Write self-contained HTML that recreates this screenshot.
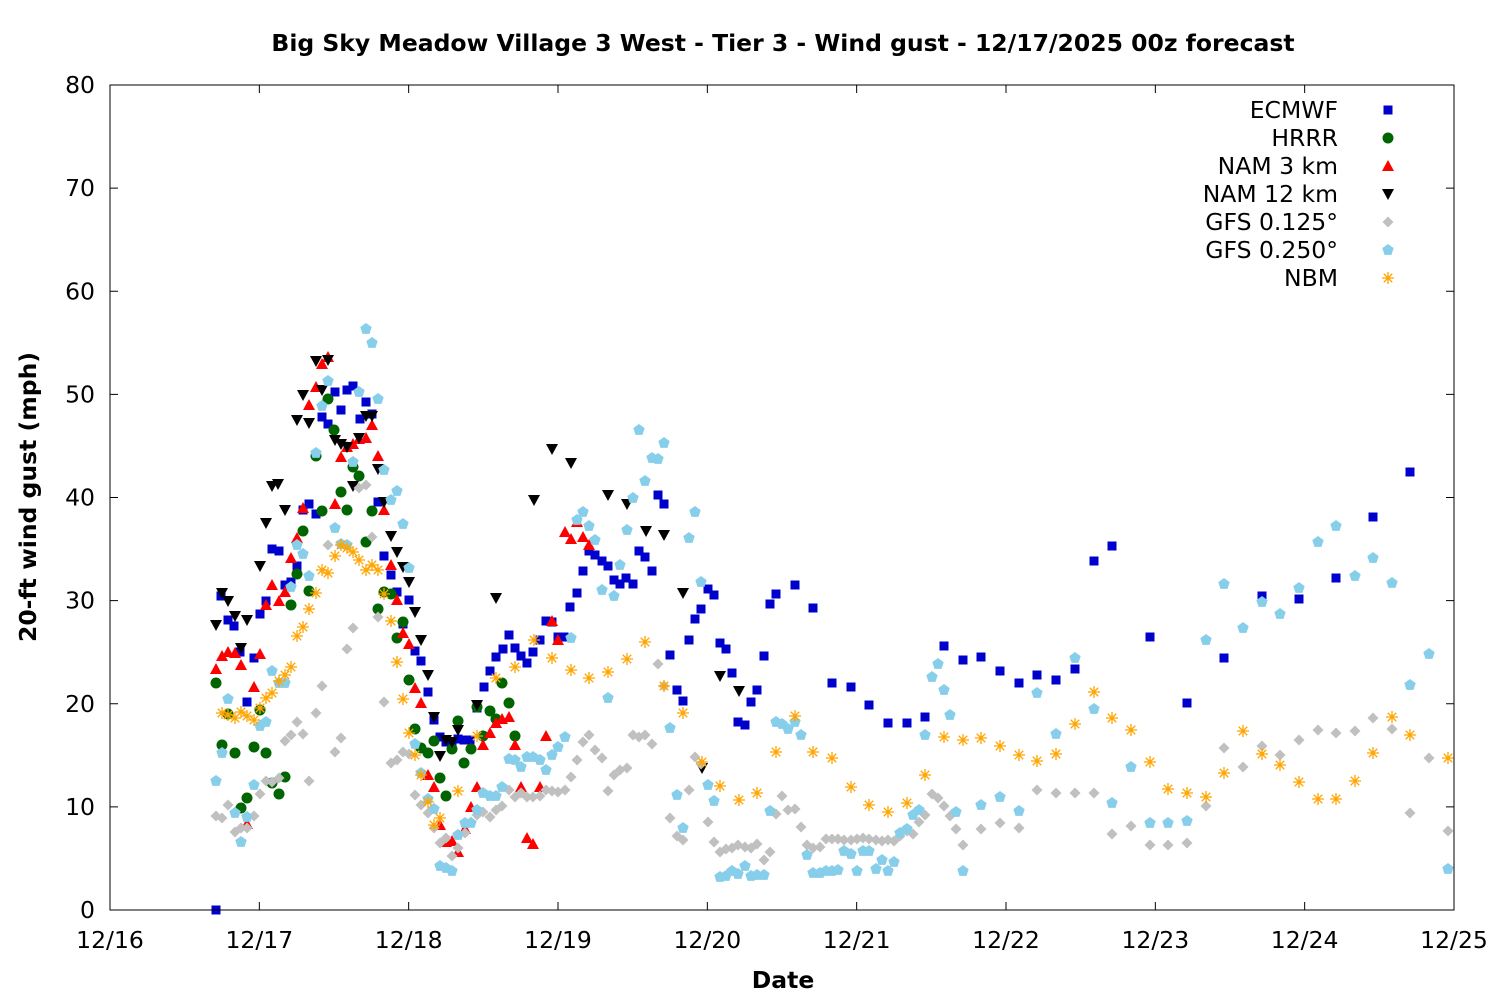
<!DOCTYPE html>
<html><head><meta charset="utf-8"><style>
html,body{margin:0;padding:0;background:#fff}
svg{display:block;font-family:"DejaVu Sans","Liberation Sans",sans-serif}
</style></head><body>
<svg id="s" width="1500" height="1000" xmlns="http://www.w3.org/2000/svg">
<rect width="1500" height="1000" fill="#fff"/>
<text x="783" y="51" text-anchor="middle" font-size="23.5" font-weight="bold">Big Sky Meadow Village 3 West - Tier 3 - Wind gust - 12/17/2025 00z forecast</text>
<text transform="translate(36,497) rotate(-90)" text-anchor="middle" font-size="23.5" font-weight="bold">20-ft wind gust (mph)</text>
<text x="783" y="988" text-anchor="middle" font-size="23.5" font-weight="bold">Date</text>
<g id="ax"></g>
<g id="pts"></g>
<g id="leg" font-size="23.5" text-anchor="end">
<text x="1338" y="118">ECMWF</text>
<text x="1338" y="146">HRRR</text>
<text x="1338" y="174">NAM 3 km</text>
<text x="1338" y="202">NAM 12 km</text>
<text x="1338" y="230">GFS 0.125°</text>
<text x="1338" y="258">GFS 0.250°</text>
<text x="1338" y="286">NBM</text>
</g>
<rect x="110" y="85" width="1344" height="825" fill="none" stroke="#000" stroke-width="1"/>
</svg>
<script>
var NS="http://www.w3.org/2000/svg";
function el(p,t,a,txt){var e=document.createElementNS(NS,t);for(var k in a)e.setAttribute(k,a[k]);if(txt!=null)e.textContent=txt;p.appendChild(e);return e;}
var ax=document.getElementById('ax');
for(var v=0;v<=80;v+=10){var y=910-v*10.3125;
 el(ax,'line',{x1:110,y1:y,x2:118,y2:y,stroke:'#000'});el(ax,'line',{x1:1454,y1:y,x2:1446,y2:y,stroke:'#000'});
 el(ax,'text',{x:95,y:y+8,'text-anchor':'end','font-size':23.5},String(v));}
var dl=['12/16','12/17','12/18','12/19','12/20','12/21','12/22','12/23','12/24','12/25'];
for(var i=0;i<10;i++){var x=110+i*149.333;
 el(ax,'line',{x1:x,y1:910,x2:x,y2:902,stroke:'#000'});el(ax,'line',{x1:x,y1:85,x2:x,y2:93,stroke:'#000'});
 el(ax,'text',{x:x,y:948,'text-anchor':'middle','font-size':23.5},dl[i]);}
function P(s){var a=s.split(/\)\s*,?\s*\(/);return a.map(function(q){q=q.replace(/[()]/g,'');var b=q.split(',');return [+b[0],+b[1]];});}
var S={
ec:"(216,910),(221,596),(228,620),(234,626),(240,652),(247,702),(254,658),(260,614),(266,601),(272,549),(279,551),(285,585),(291,582),(297,566),(303,510),(309,504),(316,514),(322,417),(328,424),(335,392),(341,410),(347,390),(353,386),(360,419),(366,402),(372,414),(378,502),(384,556),(391,575),(397,592),(403,624),(409,600),(415,651),(421,661),(428,692),(434,720),(440,737),(446,742),(452,742),(458,739),(464,740),(470,740),(477,708),(484,687),(490,671),(496,657),(503,649),(509,635),(515,648),(521,656),(527,663),(533,652),(540,640),(546,621),(552,622),(558,637),(564,637),(570,607),(577,593),(583,571),(589,551),(595,555),(602,561),(608,566),(614,580),(620,584),(626,578),(633,584),(639,551),(645,557),(652,571),(658,495),(664,504),(670,655),(677,690),(683,701),(689,640),(695,619),(701,609),(708,589),(714,595),(720,643),(726,649),(732,673),(738,722),(745,725),(751,702),(757,690),(764,656),(770,604),(776,594),(795,585),(813,608),(832,683),(851,687),(869,705),(888,723),(907,723),(925,717),(944,646),(963,660),(981,657),(1000,671),(1019,683),(1037,675),(1056,680),(1075,669),(1094,561),(1112,546),(1150,637),(1187,703),(1224,658),(1262,596),(1299,599),(1336,578),(1373,517),(1410,472)",
hr:"(216,683),(222,745),(228,714),(235,753),(241,808),(247,798),(254,747),(260,710),(266,753),(272,783),(279,794),(285,777),(291,605),(297,574),(303,531),(309,591),(316,456),(322,511),(328,399),(334,430),(341,492),(347,510),(353,467),(359,476),(366,542),(372,511),(378,609),(384,592),(391,594),(397,638),(403,622),(409,680),(415,729),(421,748),(428,753),(434,741),(440,778),(446,796),(452,749),(458,721),(464,763),(471,749),(477,707),(483,736),(490,711),(496,719),(502,683),(509,703),(515,736)",
n3:"(216,669),(222,656),(228,652),(235,653),(241,665),(247,824),(254,687),(260,654),(266,605),(272,585),(279,601),(285,592),(291,558),(297,538),(303,508),(309,405),(316,387),(322,364),(328,357),(335,504),(341,457),(347,447),(353,444),(359,439),(366,438),(372,425),(378,456),(384,510),(391,565),(397,600),(403,633),(409,644),(415,688),(421,703),(428,775),(434,787),(440,825),(446,842),(452,841),(458,852),(465,829),(471,807),(477,787),(483,745),(490,733),(496,723),(502,719),(509,717),(515,745),(521,787),(527,838),(533,844),(540,787),(546,736),(552,621),(558,640),(565,532),(571,539),(577,522),(583,537),(589,545)",
n12:"(216,625),(222,593),(228,601),(235,616),(241,648),(247,620),(260,566),(266,523),(272,486),(278,484),(285,510),(297,420),(303,395),(309,423),(316,361),(322,390),(328,360),(335,440),(341,444),(347,447),(353,486),(359,438),(366,416),(372,416),(378,469),(384,502),(391,536),(397,552),(403,567),(409,582),(415,612),(421,640),(428,675),(434,717),(440,756),(446,740),(452,742),(458,730),(477,705),(496,598),(534,500),(552,449),(571,463),(608,495),(627,504),(646,531),(664,535),(683,593),(702,768),(720,676),(739,691)",
g1:"(216,816),(222,818),(228,805),(235,832),(241,828),(247,828),(254,816),(260,794),(266,781),(272,782),(279,778),(285,741),(291,735),(297,722),(303,734),(309,781),(316,713),(322,686),(328,545),(335,752),(341,738),(347,649),(353,628),(359,488),(366,485),(372,537),(378,617),(384,702),(391,763),(397,760),(403,752),(409,754),(415,795),(421,805),(428,813),(434,828),(440,843),(446,838),(452,856),(458,848),(465,833),(471,822),(477,815),(483,812),(490,817),(496,810),(502,806),(509,790),(515,797),(521,793),(527,797),(533,797),(540,796),(546,790),(552,791),(558,792),(565,790),(571,777),(577,760),(583,742),(589,735),(595,750),(602,758),(608,791),(614,775),(620,770),(627,768),(633,735),(639,737),(645,735),(652,744),(658,664),(664,686),(670,818),(677,836),(683,840),(689,790),(695,757),(701,764),(708,822),(714,842),(720,852),(726,849),(732,848),(738,845),(745,847),(751,848),(757,844),(764,860),(770,852),(776,814),(782,796),(788,810),(795,809),(801,827),(807,845),(813,848),(820,847),(826,839),(832,839),(838,839),(844,840),(851,840),(857,839),(863,838),(869,839),(876,840),(882,841),(888,840),(894,841),(900,836),(907,831),(913,834),(919,822),(925,815),(932,794),(938,798),(944,806),(950,816),(956,829),(963,845),(981,829),(1000,823),(1019,828),(1037,790),(1056,793),(1075,793),(1094,793),(1112,834),(1131,826),(1150,845),(1168,845),(1187,843),(1206,806),(1224,748),(1243,767),(1262,746),(1280,755),(1299,740),(1318,730),(1336,733),(1355,731),(1373,718),(1392,729),(1410,813),(1429,758),(1448,831)",
g2:"(216,781),(222,753),(228,699),(235,813),(241,842),(247,817),(254,785),(260,726),(266,722),(272,671),(279,683),(285,683),(291,587),(297,545),(303,554),(309,576),(316,453),(322,406),(328,381),(335,528),(341,544),(347,545),(353,462),(359,392),(366,329),(372,343),(378,399),(384,470),(391,500),(397,491),(403,524),(409,568),(415,744),(421,773),(428,799),(434,809),(440,866),(446,868),(452,871),(458,835),(465,823),(471,823),(477,810),(483,793),(490,796),(496,796),(502,787),(509,759),(515,760),(521,767),(527,757),(533,757),(540,760),(546,770),(552,755),(558,747),(565,737),(571,638),(577,520),(583,512),(589,526),(595,540),(602,590),(608,698),(614,596),(620,565),(627,530),(633,498),(639,430),(645,481),(652,458),(658,459),(664,443),(670,728),(677,795),(683,828),(689,538),(695,512),(701,582),(708,785),(714,801),(720,877),(726,876),(732,871),(738,874),(745,866),(751,876),(757,875),(764,875),(770,811),(776,722),(782,724),(788,729),(795,722),(801,735),(807,855),(813,873),(820,873),(826,871),(832,871),(838,870),(844,851),(851,854),(857,871),(863,851),(869,851),(876,869),(882,860),(888,871),(894,862),(900,833),(907,829),(913,815),(919,810),(925,735),(932,677),(938,664),(944,690),(950,715),(956,812),(963,871),(981,805),(1000,797),(1019,811),(1037,693),(1056,734),(1075,658),(1094,709),(1112,803),(1131,767),(1150,823),(1168,823),(1187,821),(1206,640),(1224,584),(1243,628),(1262,602),(1280,614),(1299,588),(1318,542),(1336,526),(1355,576),(1373,558),(1392,583),(1410,685),(1429,654),(1448,869)",
nb:"(222,713),(228,715),(235,718),(241,712),(247,716),(254,720),(260,708),(266,698),(272,693),(279,681),(285,675),(291,667),(297,636),(303,627),(309,609),(316,593),(322,570),(328,573),(335,556),(341,545),(347,548),(353,552),(359,560),(366,570),(372,565),(378,570),(384,594),(391,621),(397,662),(403,699),(409,733),(415,755),(421,775),(428,802),(434,825),(440,818),(458,791),(477,736),(496,678),(515,667),(534,640),(552,658),(571,670),(589,678),(608,672),(627,659),(645,642),(664,686),(683,713),(702,762),(720,786),(739,800),(757,793),(776,752),(795,716),(813,752),(832,758),(851,787),(869,805),(888,812),(907,803),(925,775),(944,737),(963,740),(981,738),(1000,746),(1019,755),(1037,761),(1056,754),(1075,724),(1094,692),(1112,718),(1131,730),(1150,762),(1168,789),(1187,793),(1206,797),(1224,773),(1243,731),(1262,754),(1280,765),(1299,782),(1318,799),(1336,799),(1355,781),(1373,753),(1392,717),(1410,735),(1448,758)"
};
var g=document.getElementById('pts');
function mk(t,x,y){
 if(t=='ec')el(g,'rect',{x:x-4.5,y:y-4.5,width:9,height:9,fill:'#0000cc'});
 else if(t=='hr')el(g,'circle',{cx:x,cy:y,r:5.5,fill:'#006400'});
 else if(t=='n3')el(g,'polygon',{points:(x-6)+','+(y+5)+' '+(x+6)+','+(y+5)+' '+x+','+(y-6),fill:'#ff0000'});
 else if(t=='n12')el(g,'polygon',{points:(x-6)+','+(y-5)+' '+(x+6)+','+(y-5)+' '+x+','+(y+6),fill:'#000'});
 else if(t=='g1')el(g,'polygon',{points:x+','+(y-5.5)+' '+(x+5.5)+','+y+' '+x+','+(y+5.5)+' '+(x-5.5)+','+y,fill:'#c0c0c0'});
 else if(t=='g2'){var p=[];for(var i=0;i<5;i++){var a=-Math.PI/2+i*2*Math.PI/5;p.push((x+6*Math.cos(a)).toFixed(1)+','+(y+6*Math.sin(a)).toFixed(1));}el(g,'polygon',{points:p.join(' '),fill:'#87ceeb'});}
 else if(t=='nb'){var d='';for(var i=0;i<4;i++){var a=i*Math.PI/4;var dx=6*Math.cos(a),dy=6*Math.sin(a);d+='M'+(x-dx)+' '+(y-dy)+'L'+(x+dx)+' '+(y+dy);}el(g,'path',{d:d,stroke:'#ffa500','stroke-width':1.3,fill:'none'});}
}
['ec','hr','n3','n12','g1','g2','nb'].forEach(function(k,i){P(S[k]).forEach(function(p){mk(k,p[0],p[1]);});mk(k,1388,110+i*28);});
</script>
</body></html>
